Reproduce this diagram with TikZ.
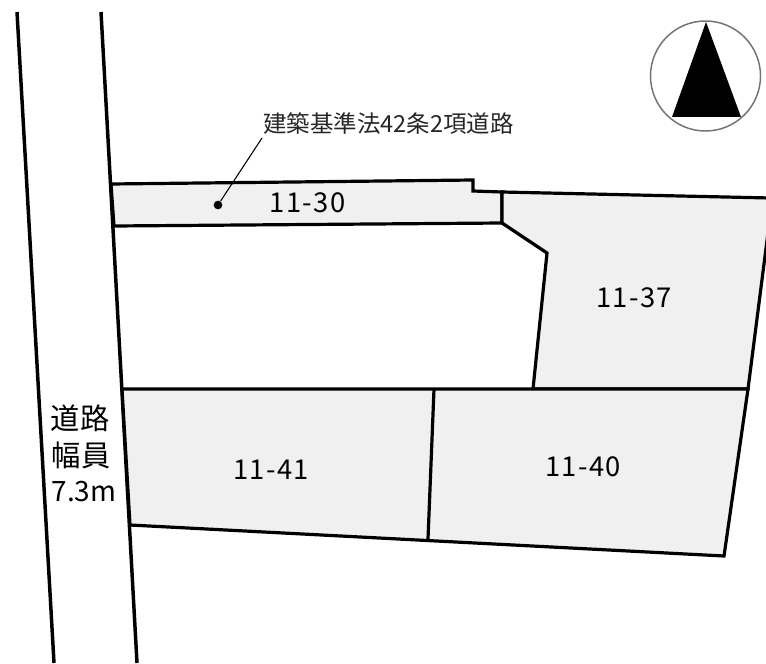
\documentclass[tikz,border=0pt]{standalone}
\usepackage{fontspec}
\setmainfont{Noto Sans CJK JP}
\definecolor{lotgray}{RGB}{240,240,240}
\tikzset{every picture/.style={line width=0.75pt}}
\tikzset{
  lot/.style={draw=black,fill=lotgray,line width=2.4pt,line join=miter},
  roadline/.style={draw=black,line width=2.6pt},
  lotlabel/.style={inner sep=0.75pt,font=\fontsize{20.5}{21}\selectfont\addfontfeature{LetterSpace=5}},
  roadlabel/.style={inner sep=0.75pt,font=\fontsize{22}{22}\selectfont},
  notelabel/.style={inner sep=0.75pt,font=\fontsize{17.6}{18}\selectfont,text=black!85},
}
\begin{document}
\begin{tikzpicture}[x=0.75pt,y=0.75pt,yscale=-1,xscale=1]
\useasboundingbox (0,0) rectangle (766,663);

%Road
\draw [roadline] (17,12) -- (54,663);
\draw [roadline] (101,12) -- (137,663);

%Lots
\draw [lot] (111,184) -- (473,180) -- (473,191) -- (502,192) -- (502,223) -- (114,226) -- cycle;
\draw [lot] (502,192) -- (770,198) -- (770,217) -- (748,389) -- (533,389) -- (547,253) -- (502,223) -- cycle;
\draw [lot] (122,389) -- (748,389) -- (724,556) -- (130,525) -- cycle;
\draw [lot] (434,389) -- (428,539);

%North mark
\draw [draw=black!55,line width=1.1pt] (705.5,76) circle (55);
\fill [black] (706,22) -- (741,117) -- (672,117) -- cycle;

%Labels
\node [lotlabel] (lotA) at (307.5,203) {11-30};
\node [lotlabel] (lotB) at (634,297.5) {11-37};
\node [lotlabel] (lotC) at (271,470) {11-41};
\node [lotlabel] (lotD) at (583,467) {11-40};
\node [roadlabel] (roadA) at (80,418) {道路};
\node [roadlabel] (roadB) at (81,455) {幅員};
\node [roadlabel,font=\fontsize{21}{21}\selectfont] (roadC) at (84,492) {7.3m};
\node [notelabel] (noteA) at (388.5,124) {建築基準法42条2項道路};

%Leader
\node [circle,fill=black,inner sep=0pt,minimum size=6.5pt] (pinA) at (218,205) {};
\coordinate (noteEnd) at (262,138);
\draw [line width=0.8pt] (noteEnd) -- (pinA);
\end{tikzpicture}
\end{document}
